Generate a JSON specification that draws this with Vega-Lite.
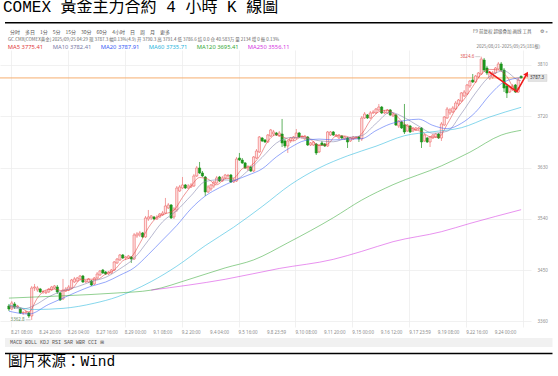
{
"$schema": "https://vega.github.io/schema/vega-lite/v6.json",
"width": 531, "height": 277,
"autosize": {"type": "none"},
"padding": {"left": 0, "top": 50, "right": 27, "bottom": 49},
"background": "#ffffff",
"title": {"text": "COMEX 黃金主力合約 4 小時 K 線圖", "anchor": "start", "frame": "group", "font": "Liberation Mono, Noto Sans CJK TC", "fontSize": 16, "fontWeight": "normal", "color": "#000000", "baseline": "alphabetic", "offset": 6, "dx": 3, "dy": 12},
"config": {"view": {"stroke": null}, "axis": {"labelFont": "Noto Sans", "labelFontSize": 4.5, "labelColor": "#8c8c8c", "gridColor": "#eeeeee", "gridWidth": 0.8, "domain": false, "ticks": false}},
"datasets": {
"candles": [
{"i":0,"o":3387.2,"h":3390.7,"l":3378.4,"c":3381.9},
{"i":1,"o":3381.9,"h":3396.0,"l":3380.2,"c":3392.5},
{"i":2,"o":3390.7,"h":3394.2,"l":3381.9,"c":3385.4},
{"i":3,"o":3385.4,"h":3389.0,"l":3383.7,"c":3387.2},
{"i":4,"o":3381.9,"h":3383.7,"l":3373.2,"c":3374.9},
{"i":5,"o":3374.9,"h":3378.4,"l":3371.4,"c":3375.6},
{"i":6,"o":3374.9,"h":3378.4,"l":3373.2,"c":3376.7},
{"i":7,"o":3374.9,"h":3376.7,"l":3366.1,"c":3369.6},
{"i":8,"o":3369.6,"h":3422.3,"l":3362.8,"c":3418.8},
{"i":9,"o":3418.8,"h":3425.8,"l":3413.5,"c":3420.5},
{"i":10,"o":3415.3,"h":3422.3,"l":3411.8,"c":3418.8},
{"i":11,"o":3417.0,"h":3418.8,"l":3410.0,"c":3411.8},
{"i":12,"o":3411.8,"h":3415.3,"l":3408.3,"c":3412.5},
{"i":13,"o":3410.0,"h":3415.3,"l":3408.3,"c":3411.8},
{"i":14,"o":3411.8,"h":3418.8,"l":3410.0,"c":3417.0},
{"i":15,"o":3415.3,"h":3422.3,"l":3413.5,"c":3420.5},
{"i":16,"o":3418.8,"h":3424.0,"l":3417.0,"c":3422.3},
{"i":17,"o":3420.5,"h":3424.0,"l":3408.3,"c":3411.8},
{"i":18,"o":3410.0,"h":3411.8,"l":3396.0,"c":3397.7},
{"i":19,"o":3399.5,"h":3434.6,"l":3397.7,"c":3415.3},
{"i":20,"o":3413.5,"h":3420.5,"l":3411.8,"c":3417.0},
{"i":21,"o":3415.3,"h":3424.0,"l":3413.5,"c":3420.5},
{"i":22,"o":3418.8,"h":3434.6,"l":3417.0,"c":3432.8},
{"i":23,"o":3429.3,"h":3438.1,"l":3427.5,"c":3434.6},
{"i":24,"o":3431.1,"h":3438.1,"l":3429.3,"c":3436.3},
{"i":25,"o":3434.6,"h":3441.6,"l":3432.8,"c":3439.8},
{"i":26,"o":3439.8,"h":3441.6,"l":3427.5,"c":3429.3},
{"i":27,"o":3429.3,"h":3432.8,"l":3427.5,"c":3431.1},
{"i":28,"o":3429.3,"h":3436.3,"l":3427.5,"c":3434.6},
{"i":29,"o":3431.1,"h":3432.8,"l":3422.3,"c":3424.0},
{"i":30,"o":3425.8,"h":3438.1,"l":3424.0,"c":3436.3},
{"i":31,"o":3436.3,"h":3446.8,"l":3434.6,"c":3443.3},
{"i":32,"o":3441.6,"h":3450.3,"l":3439.8,"c":3448.6},
{"i":33,"o":3450.3,"h":3452.1,"l":3443.3,"c":3445.1},
{"i":34,"o":3446.8,"h":3448.6,"l":3441.6,"c":3443.3},
{"i":35,"o":3443.3,"h":3448.6,"l":3441.6,"c":3446.8},
{"i":36,"o":3445.1,"h":3452.1,"l":3443.3,"c":3450.3},
{"i":37,"o":3450.3,"h":3466.1,"l":3448.6,"c":3464.4},
{"i":38,"o":3462.6,"h":3471.4,"l":3460.9,"c":3469.6},
{"i":39,"o":3467.9,"h":3478.4,"l":3466.1,"c":3476.7},
{"i":40,"o":3476.7,"h":3478.4,"l":3469.6,"c":3471.4},
{"i":41,"o":3471.4,"h":3474.9,"l":3467.9,"c":3473.2},
{"i":42,"o":3471.4,"h":3476.7,"l":3469.6,"c":3474.9},
{"i":43,"o":3473.2,"h":3474.9,"l":3462.6,"c":3469.6},
{"i":44,"o":3469.6,"h":3515.3,"l":3467.9,"c":3511.8},
{"i":45,"o":3510.0,"h":3517.0,"l":3506.5,"c":3513.5},
{"i":46,"o":3511.8,"h":3518.8,"l":3508.3,"c":3515.3},
{"i":47,"o":3515.3,"h":3517.0,"l":3506.5,"c":3508.3},
{"i":48,"o":3508.3,"h":3545.1,"l":3506.5,"c":3541.6},
{"i":49,"o":3539.8,"h":3555.6,"l":3536.3,"c":3543.3},
{"i":50,"o":3541.6,"h":3546.8,"l":3538.1,"c":3545.1},
{"i":51,"o":3543.3,"h":3545.1,"l":3538.1,"c":3539.8},
{"i":52,"o":3539.8,"h":3546.8,"l":3538.1,"c":3543.3},
{"i":53,"o":3543.3,"h":3550.3,"l":3541.6,"c":3548.6},
{"i":54,"o":3546.8,"h":3553.9,"l":3545.1,"c":3550.3},
{"i":55,"o":3550.3,"h":3576.7,"l":3548.6,"c":3562.6},
{"i":56,"o":3559.1,"h":3567.9,"l":3557.4,"c":3564.4},
{"i":57,"o":3564.4,"h":3566.1,"l":3539.8,"c":3541.6},
{"i":58,"o":3543.3,"h":3560.9,"l":3539.8,"c":3557.4},
{"i":59,"o":3555.6,"h":3597.7,"l":3552.1,"c":3594.2},
{"i":60,"o":3588.9,"h":3599.5,"l":3587.2,"c":3596.0},
{"i":61,"o":3594.2,"h":3613.5,"l":3592.5,"c":3599.5},
{"i":62,"o":3599.5,"h":3601.2,"l":3592.5,"c":3594.2},
{"i":63,"o":3594.2,"h":3601.2,"l":3592.5,"c":3597.7},
{"i":64,"o":3596.0,"h":3603.0,"l":3594.2,"c":3599.5},
{"i":65,"o":3597.7,"h":3618.8,"l":3596.0,"c":3615.3},
{"i":66,"o":3615.3,"h":3632.8,"l":3613.5,"c":3629.3},
{"i":67,"o":3629.3,"h":3639.8,"l":3618.8,"c":3620.5},
{"i":68,"o":3620.5,"h":3624.0,"l":3613.5,"c":3615.3},
{"i":69,"o":3613.5,"h":3615.3,"l":3580.2,"c":3587.2},
{"i":70,"o":3587.2,"h":3599.5,"l":3585.4,"c":3596.0},
{"i":71,"o":3592.5,"h":3601.2,"l":3588.9,"c":3599.5},
{"i":72,"o":3597.7,"h":3606.5,"l":3594.2,"c":3604.7},
{"i":73,"o":3603.0,"h":3615.3,"l":3601.2,"c":3611.8},
{"i":74,"o":3613.5,"h":3615.3,"l":3604.7,"c":3606.5},
{"i":75,"o":3606.5,"h":3615.3,"l":3604.7,"c":3611.8},
{"i":76,"o":3611.8,"h":3618.8,"l":3610.0,"c":3617.0},
{"i":77,"o":3615.3,"h":3618.8,"l":3611.8,"c":3616.5},
{"i":78,"o":3617.0,"h":3618.8,"l":3603.0,"c":3604.7},
{"i":79,"o":3604.7,"h":3611.8,"l":3603.0,"c":3608.3},
{"i":80,"o":3606.5,"h":3648.6,"l":3604.7,"c":3645.1},
{"i":81,"o":3646.8,"h":3655.6,"l":3641.6,"c":3643.3},
{"i":82,"o":3643.3,"h":3646.8,"l":3636.3,"c":3638.1},
{"i":83,"o":3638.1,"h":3639.8,"l":3627.5,"c":3629.3},
{"i":84,"o":3627.5,"h":3634.6,"l":3624.0,"c":3631.1},
{"i":85,"o":3631.1,"h":3632.8,"l":3622.3,"c":3624.0},
{"i":86,"o":3624.0,"h":3650.3,"l":3622.3,"c":3648.6},
{"i":87,"o":3646.8,"h":3662.6,"l":3645.1,"c":3659.1},
{"i":88,"o":3657.4,"h":3685.4,"l":3655.6,"c":3683.7},
{"i":89,"o":3681.9,"h":3683.7,"l":3674.9,"c":3676.7},
{"i":90,"o":3678.4,"h":3680.2,"l":3673.2,"c":3674.9},
{"i":91,"o":3674.9,"h":3688.9,"l":3673.2,"c":3687.2},
{"i":92,"o":3685.4,"h":3697.7,"l":3683.7,"c":3696.0},
{"i":93,"o":3688.9,"h":3696.0,"l":3685.4,"c":3692.5},
{"i":94,"o":3690.7,"h":3692.5,"l":3685.4,"c":3687.2},
{"i":95,"o":3685.4,"h":3694.2,"l":3683.7,"c":3690.7},
{"i":96,"o":3688.9,"h":3715.3,"l":3666.1,"c":3673.2},
{"i":97,"o":3676.7,"h":3680.2,"l":3664.4,"c":3667.9},
{"i":98,"o":3667.9,"h":3678.4,"l":3655.6,"c":3676.7},
{"i":99,"o":3676.7,"h":3683.7,"l":3673.2,"c":3681.9},
{"i":100,"o":3680.2,"h":3685.4,"l":3676.7,"c":3683.7},
{"i":101,"o":3681.9,"h":3697.7,"l":3680.2,"c":3690.7},
{"i":102,"o":3690.7,"h":3692.5,"l":3681.9,"c":3683.7},
{"i":103,"o":3683.7,"h":3687.2,"l":3680.2,"c":3684.5},
{"i":104,"o":3680.2,"h":3687.2,"l":3678.4,"c":3685.4},
{"i":105,"o":3683.7,"h":3685.4,"l":3667.9,"c":3669.6},
{"i":106,"o":3669.6,"h":3674.9,"l":3667.9,"c":3673.2},
{"i":107,"o":3669.6,"h":3676.7,"l":3667.9,"c":3674.9},
{"i":108,"o":3671.4,"h":3673.2,"l":3652.1,"c":3655.6},
{"i":109,"o":3657.4,"h":3671.4,"l":3655.6,"c":3669.6},
{"i":110,"o":3673.2,"h":3676.7,"l":3667.9,"c":3669.6},
{"i":111,"o":3671.4,"h":3673.2,"l":3666.1,"c":3667.9},
{"i":112,"o":3667.9,"h":3694.2,"l":3666.1,"c":3692.5},
{"i":113,"o":3687.2,"h":3694.2,"l":3685.4,"c":3692.5},
{"i":114,"o":3692.5,"h":3694.2,"l":3685.4,"c":3687.2},
{"i":115,"o":3685.4,"h":3688.9,"l":3683.7,"c":3687.2},
{"i":116,"o":3681.9,"h":3688.9,"l":3680.2,"c":3687.2},
{"i":117,"o":3685.4,"h":3687.2,"l":3680.2,"c":3681.9},
{"i":118,"o":3680.2,"h":3685.4,"l":3678.4,"c":3683.7},
{"i":119,"o":3681.9,"h":3683.7,"l":3664.4,"c":3674.9},
{"i":120,"o":3676.7,"h":3683.7,"l":3674.9,"c":3681.9},
{"i":121,"o":3680.2,"h":3685.4,"l":3678.4,"c":3683.7},
{"i":122,"o":3681.9,"h":3685.4,"l":3680.2,"c":3683.0},
{"i":123,"o":3683.7,"h":3685.4,"l":3674.9,"c":3680.2},
{"i":124,"o":3680.2,"h":3720.5,"l":3676.7,"c":3717.0},
{"i":125,"o":3717.0,"h":3727.5,"l":3715.3,"c":3724.0},
{"i":126,"o":3722.3,"h":3724.0,"l":3715.3,"c":3717.0},
{"i":127,"o":3717.0,"h":3729.3,"l":3715.3,"c":3725.8},
{"i":128,"o":3725.8,"h":3731.1,"l":3724.0,"c":3727.5},
{"i":129,"o":3725.8,"h":3734.6,"l":3724.0,"c":3732.8},
{"i":130,"o":3731.1,"h":3741.6,"l":3729.3,"c":3736.3},
{"i":131,"o":3736.3,"h":3738.1,"l":3724.0,"c":3725.8},
{"i":132,"o":3725.8,"h":3731.1,"l":3724.0,"c":3727.5},
{"i":133,"o":3725.8,"h":3732.8,"l":3724.0,"c":3731.1},
{"i":134,"o":3731.1,"h":3732.8,"l":3720.5,"c":3722.3},
{"i":135,"o":3720.5,"h":3725.8,"l":3718.8,"c":3724.0},
{"i":136,"o":3722.3,"h":3724.0,"l":3703.0,"c":3704.7},
{"i":137,"o":3703.0,"h":3713.5,"l":3699.5,"c":3711.8},
{"i":138,"o":3710.0,"h":3711.8,"l":3697.7,"c":3699.5},
{"i":139,"o":3705.0,"h":3741.6,"l":3688.9,"c":3692.5},
{"i":140,"o":3694.2,"h":3706.5,"l":3692.5,"c":3704.7},
{"i":141,"o":3703.0,"h":3704.7,"l":3690.7,"c":3692.5},
{"i":142,"o":3694.2,"h":3701.2,"l":3692.5,"c":3699.5},
{"i":143,"o":3696.0,"h":3701.2,"l":3694.2,"c":3699.5},
{"i":144,"o":3697.7,"h":3701.2,"l":3696.0,"c":3699.5},
{"i":145,"o":3699.5,"h":3701.2,"l":3664.4,"c":3674.9},
{"i":146,"o":3676.7,"h":3688.9,"l":3674.9,"c":3687.2},
{"i":147,"o":3681.9,"h":3683.7,"l":3673.2,"c":3674.9},
{"i":148,"o":3674.9,"h":3685.4,"l":3666.1,"c":3683.7},
{"i":149,"o":3681.9,"h":3688.9,"l":3680.2,"c":3687.2},
{"i":150,"o":3683.7,"h":3690.7,"l":3681.9,"c":3688.9},
{"i":151,"o":3688.9,"h":3690.7,"l":3680.2,"c":3681.9},
{"i":152,"o":3681.9,"h":3710.0,"l":3676.7,"c":3706.5},
{"i":153,"o":3704.7,"h":3720.5,"l":3703.0,"c":3718.8},
{"i":154,"o":3717.0,"h":3736.3,"l":3715.3,"c":3732.8},
{"i":155,"o":3725.8,"h":3734.6,"l":3722.3,"c":3731.1},
{"i":156,"o":3727.5,"h":3738.1,"l":3725.8,"c":3734.6},
{"i":157,"o":3732.8,"h":3746.8,"l":3731.1,"c":3743.3},
{"i":158,"o":3741.6,"h":3750.3,"l":3738.1,"c":3748.6},
{"i":159,"o":3746.8,"h":3762.6,"l":3745.1,"c":3760.9},
{"i":160,"o":3755.6,"h":3766.1,"l":3753.9,"c":3762.6},
{"i":161,"o":3759.1,"h":3776.7,"l":3757.4,"c":3774.9},
{"i":162,"o":3773.2,"h":3783.7,"l":3769.6,"c":3781.9},
{"i":163,"o":3783.7,"h":3794.2,"l":3778.4,"c":3780.2},
{"i":164,"o":3780.2,"h":3792.5,"l":3778.4,"c":3790.7},
{"i":165,"o":3788.9,"h":3797.7,"l":3787.2,"c":3796.0},
{"i":166,"o":3794.2,"h":3824.6,"l":3792.5,"c":3820.5},
{"i":167,"o":3818.8,"h":3822.3,"l":3797.7,"c":3801.2},
{"i":168,"o":3804.7,"h":3808.2,"l":3792.5,"c":3796.0},
{"i":169,"o":3787.2,"h":3799.5,"l":3783.7,"c":3797.7},
{"i":170,"o":3788.9,"h":3799.5,"l":3785.4,"c":3796.0},
{"i":171,"o":3796.0,"h":3806.5,"l":3794.2,"c":3804.7},
{"i":172,"o":3803.0,"h":3815.3,"l":3801.2,"c":3811.8},
{"i":173,"o":3811.8,"h":3815.3,"l":3799.5,"c":3801.2},
{"i":174,"o":3801.2,"h":3804.7,"l":3762.6,"c":3769.6},
{"i":175,"o":3773.2,"h":3776.7,"l":3752.1,"c":3760.9},
{"i":176,"o":3762.6,"h":3774.9,"l":3760.9,"c":3771.4},
{"i":177,"o":3766.1,"h":3776.7,"l":3764.4,"c":3773.2},
{"i":178,"o":3774.9,"h":3776.7,"l":3760.9,"c":3762.6},
{"i":179,"o":3762.6,"h":3787.2,"l":3760.9,"c":3783.7},
{"i":180,"o":3790.3,"h":3791.4,"l":3786.6,"c":3787.3}
],
"ma": [
{"s":"MA5","i":0,"v":3387},{"s":"MA5","i":4,"v":3384.4},{"s":"MA5","i":7,"v":3376.8},{"s":"MA5","i":10,"v":3400.9},{"s":"MA5","i":13,"v":3415.1},{"s":"MA5","i":16,"v":3416.8},{"s":"MA5","i":19,"v":3413.5},{"s":"MA5","i":22,"v":3416.7},{"s":"MA5","i":25,"v":3432.8},{"s":"MA5","i":28,"v":3434.2},{"s":"MA5","i":31,"v":3433.9},{"s":"MA5","i":34,"v":3443.3},{"s":"MA5","i":37,"v":3450.0},{"s":"MA5","i":40,"v":3466.5},{"s":"MA5","i":43,"v":3473.2},{"s":"MA5","i":46,"v":3497.0},{"s":"MA5","i":49,"v":3524.4},{"s":"MA5","i":52,"v":3542.6},{"s":"MA5","i":55,"v":3548.9},{"s":"MA5","i":58,"v":3555.3},{"s":"MA5","i":61,"v":3577.7},{"s":"MA5","i":64,"v":3597.4},{"s":"MA5","i":67,"v":3612.5},{"s":"MA5","i":70,"v":3609.7},{"s":"MA5","i":73,"v":3599.8},{"s":"MA5","i":76,"v":3610.4},{"s":"MA5","i":79,"v":3611.7},{"s":"MA5","i":82,"v":3627.9},{"s":"MA5","i":85,"v":3633.2},{"s":"MA5","i":88,"v":3649.3},{"s":"MA5","i":91,"v":3676.3},{"s":"MA5","i":94,"v":3687.6},{"s":"MA5","i":97,"v":3682.3},{"s":"MA5","i":100,"v":3676.7},{"s":"MA5","i":103,"v":3684.9},{"s":"MA5","i":106,"v":3679.3},{"s":"MA5","i":109,"v":3668.6},{"s":"MA5","i":112,"v":3671.0},{"s":"MA5","i":115,"v":3685.5},{"s":"MA5","i":118,"v":3685.4},{"s":"MA5","i":121,"v":3681.2},{"s":"MA5","i":124,"v":3689.2},{"s":"MA5","i":127,"v":3712.8},{"s":"MA5","i":130,"v":3727.9},{"s":"MA5","i":133,"v":3730.7},{"s":"MA5","i":136,"v":3721.9},{"s":"MA5","i":139,"v":3706.5},{"s":"MA5","i":142,"v":3697.7},{"s":"MA5","i":145,"v":3693.2},{"s":"MA5","i":148,"v":3684.0},{"s":"MA5","i":151,"v":3683.3},{"s":"MA5","i":154,"v":3705.8},{"s":"MA5","i":157,"v":3732.1},{"s":"MA5","i":160,"v":3750.0},{"s":"MA5","i":163,"v":3772.1},{"s":"MA5","i":166,"v":3793.9},{"s":"MA5","i":169,"v":3802.3},{"s":"MA5","i":172,"v":3801.2},{"s":"MA5","i":175,"v":3789.6},{"s":"MA5","i":178,"v":3767.5},{"s":"MA5","i":180,"v":3775.4},
{"s":"MA10","i":0,"v":3386},{"s":"MA10","i":5,"v":3382},{"s":"MA10","i":9,"v":3388.3},{"s":"MA10","i":14,"v":3403.3},{"s":"MA10","i":19,"v":3414.0},{"s":"MA10","i":24,"v":3420.9},{"s":"MA10","i":29,"v":3430.0},{"s":"MA10","i":34,"v":3437.5},{"s":"MA10","i":39,"v":3452.4},{"s":"MA10","i":44,"v":3470.9},{"s":"MA10","i":49,"v":3502.3},{"s":"MA10","i":54,"v":3534.9},{"s":"MA10","i":59,"v":3554.7},{"s":"MA10","i":64,"v":3580.7},{"s":"MA10","i":69,"v":3605.5},{"s":"MA10","i":74,"v":3608.6},{"s":"MA10","i":79,"v":3607.7},{"s":"MA10","i":84,"v":3624.5},{"s":"MA10","i":89,"v":3647.9},{"s":"MA10","i":94,"v":3673.0},{"s":"MA10","i":99,"v":3682.8},{"s":"MA10","i":104,"v":3681.8},{"s":"MA10","i":109,"v":3677.1},{"s":"MA10","i":114,"v":3675.3},{"s":"MA10","i":119,"v":3682.5},{"s":"MA10","i":124,"v":3686.1},{"s":"MA10","i":129,"v":3707.3},{"s":"MA10","i":134,"v":3727.0},{"s":"MA10","i":139,"v":3717.6},{"s":"MA10","i":144,"v":3702.8},{"s":"MA10","i":149,"v":3690.4},{"s":"MA10","i":154,"v":3693.7},{"s":"MA10","i":159,"v":3724.7},{"s":"MA10","i":164,"v":3760.9},{"s":"MA10","i":169,"v":3790.2},{"s":"MA10","i":174,"v":3799.5},{"s":"MA10","i":179,"v":3783.5},{"s":"MA10","i":180,"v":3782.4},
{"s":"MA20","i":0,"v":3378},{"s":"MA20","i":7,"v":3373},{"s":"MA20","i":14,"v":3390},{"s":"MA20","i":19,"v":3401.1},{"s":"MA20","i":24,"v":3412.1},{"s":"MA20","i":29,"v":3422.0},{"s":"MA20","i":34,"v":3429.2},{"s":"MA20","i":39,"v":3441.2},{"s":"MA20","i":44,"v":3454.2},{"s":"MA20","i":49,"v":3477.4},{"s":"MA20","i":54,"v":3502.9},{"s":"MA20","i":59,"v":3528.5},{"s":"MA20","i":64,"v":3557.8},{"s":"MA20","i":69,"v":3580.1},{"s":"MA20","i":74,"v":3594.7},{"s":"MA20","i":79,"v":3606.6},{"s":"MA20","i":84,"v":3616.6},{"s":"MA20","i":89,"v":3627.8},{"s":"MA20","i":94,"v":3648.8},{"s":"MA20","i":99,"v":3665.4},{"s":"MA20","i":104,"v":3677.4},{"s":"MA20","i":109,"v":3680.0},{"s":"MA20","i":114,"v":3678.6},{"s":"MA20","i":119,"v":3679.8},{"s":"MA20","i":124,"v":3680.7},{"s":"MA20","i":129,"v":3694.9},{"s":"MA20","i":134,"v":3706.5},{"s":"MA20","i":139,"v":3712.4},{"s":"MA20","i":144,"v":3714.9},{"s":"MA20","i":149,"v":3704.0},{"s":"MA20","i":154,"v":3698.3},{"s":"MA20","i":159,"v":3707.6},{"s":"MA20","i":164,"v":3727.3},{"s":"MA20","i":169,"v":3757.5},{"s":"MA20","i":174,"v":3780.2},{"s":"MA20","i":180,"v":3787.9},
{"s":"MA60","i":0,"v":3389},{"s":"MA60","i":9,"v":3381},{"s":"MA60","i":19,"v":3383},{"s":"MA60","i":30,"v":3392},{"s":"MA60","i":38,"v":3403},{"s":"MA60","i":43,"v":3413},{"s":"MA60","i":50,"v":3430},{"s":"MA60","i":59,"v":3457},{"s":"MA60","i":69,"v":3493.1},{"s":"MA60","i":79,"v":3525.4},{"s":"MA60","i":89,"v":3561.7},{"s":"MA60","i":99,"v":3600.1},{"s":"MA60","i":109,"v":3629.3},{"s":"MA60","i":119,"v":3650.6},{"s":"MA60","i":129,"v":3667.5},{"s":"MA60","i":139,"v":3685.9},{"s":"MA60","i":149,"v":3692.9},{"s":"MA60","i":159,"v":3699.9},{"s":"MA60","i":169,"v":3718.8},{"s":"MA60","i":180,"v":3735.7},
{"s":"MA120","i":0,"v":3401},{"s":"MA120","i":19,"v":3405},{"s":"MA120","i":38,"v":3410},{"s":"MA120","i":50,"v":3415},{"s":"MA120","i":64,"v":3435},{"s":"MA120","i":76,"v":3454},{"s":"MA120","i":86,"v":3468},{"s":"MA120","i":98,"v":3498},{"s":"MA120","i":114,"v":3542},{"s":"MA120","i":124,"v":3573},{"s":"MA120","i":135,"v":3600},{"s":"MA120","i":152,"v":3633},{"s":"MA120","i":162,"v":3657},{"s":"MA120","i":173,"v":3687},{"s":"MA120","i":180,"v":3695.4},
{"s":"MA250","i":50,"v":3415},{"s":"MA250","i":76,"v":3434},{"s":"MA250","i":95,"v":3453},{"s":"MA250","i":114,"v":3469},{"s":"MA250","i":124,"v":3483},{"s":"MA250","i":135,"v":3500},{"s":"MA250","i":152,"v":3517.5},{"s":"MA250","i":162,"v":3532},{"s":"MA250","i":180,"v":3556.1}
],
"ticks": [
{"i":0.7,"t":"8.21 08:00"},{"i":10.7,"t":"8.24 20:00"},{"i":20.7,"t":"8.26 04:00"},{"i":30.7,"t":"8.27 16:00"},{"i":40.7,"t":"8.29 00:00"},{"i":50.7,"t":"9.1 08:00"},{"i":60.7,"t":"9.2 20:00"},{"i":70.7,"t":"9.4 04:00"},{"i":80.7,"t":"9.5 16:00"},{"i":90.7,"t":"9.8 23:59"},{"i":100.7,"t":"9.10 08:00"},{"i":110.7,"t":"9.11 20:00"},{"i":120.7,"t":"9.15 00:00"},{"i":130.7,"t":"9.16 12:00"},{"i":140.7,"t":"9.17 23:59"},{"i":150.7,"t":"9.19 08:00"},{"i":160.7,"t":"9.22 16:00"},{"i":170.7,"t":"9.24 00:00"}
],
"arrow": [{"i":168.6,"p":3798.2},{"i":178.5,"p":3763.2},{"i":182.0,"p":3794.5}],
"notes": [{"i":166,"p":3824.6,"t":"3824.6","kind":"high"},{"i":8,"p":3362.8,"t":"3362.8","kind":"low"}],
"tag": [{"p":3787.3,"t":"3787.3"}]
},
"layer": [
{"data": {"values": [{}]}, "mark": {"type": "rect", "color": "#f1f1f1"},
 "encoding": {
  "x": {"datum": -1.38, "type": "quantitative", "title": null, "scale": {"domain": [-1.38, 181.72], "nice": false, "zero": false},
        "axis": {"values": [0.7,10.7,20.7,30.7,40.7,50.7,60.7,70.7,80.7,90.7,100.7,110.7,120.7,130.7,140.7,150.7,160.7,170.7,180.7], "labels": false, "grid": true, "title": null}},
  "x2": {"datum": 191.03},
  "y": {"datum": 3331.0, "type": "quantitative", "title": null, "scale": {"domain": [3350.3, 3836.3], "nice": false, "zero": false},
        "axis": {"orient": "right", "values": [3360,3450,3540,3630,3720,3810], "format": "d", "labelPadding": 6, "labelAlign": "left", "grid": true, "title": null}},
  "y2": {"datum": 3315.3}}},
{"data": {"name": "tag"}, "mark": {"type": "rule", "color": "#f6ae70", "strokeWidth": 1},
 "encoding": {"y": {"field": "p", "type": "quantitative", "title": null}}},
{"data": {"name": "candles"}, "mark": {"type": "rule", "strokeWidth": 0.8},
 "encoding": {
  "x": {"field": "i", "type": "quantitative", "title": null},
  "y": {"field": "l", "type": "quantitative", "title": null},
  "y2": {"field": "h"},
  "stroke": {"condition": {"test": "datum.c >= datum.o", "value": "#f08585"}, "value": "#3a9e3a"}}},
{"data": {"name": "candles"}, "mark": {"type": "bar", "size": 2.2, "strokeWidth": 0.6},
 "encoding": {
  "x": {"field": "i", "type": "quantitative", "title": null},
  "y": {"field": "o", "type": "quantitative", "title": null},
  "y2": {"field": "c"},
  "fill": {"condition": {"test": "datum.c >= datum.o", "value": "#fde2e2"}, "value": "#1c961c"},
  "stroke": {"condition": {"test": "datum.c >= datum.o", "value": "#ee6464"}, "value": "#1c961c"}}},
{"data": {"name": "ma"}, "mark": {"type": "line", "interpolate": "monotone", "strokeWidth": 0.9, "opacity": 0.6},
 "encoding": {
  "x": {"field": "i", "type": "quantitative", "title": null},
  "y": {"field": "v", "type": "quantitative", "title": null},
  "color": {"field": "s", "type": "nominal",
    "scale": {"domain": ["MA5","MA10","MA20","MA60","MA120","MA250"], "range": ["#e23c3c","#7a7aa6","#3a5cf5","#1fb4dc","#35a835","#d535e2"]},
    "legend": {"orient": "none", "legendX": 2, "legendY": -6, "direction": "horizontal", "title": null, "symbolSize": 0, "symbolOpacity": 0, "symbolStrokeWidth": 0, "labelOffset": 0, "columnPadding": 3, "labelFontSize": 5.8, "labelFont": "Noto Sans", "padding": 0, "labelLimit": 200,
      "labelExpr": "datum.value == 'MA5' ? 'MA5 3775.41' : datum.value == 'MA10' ? 'MA10 3782.41' : datum.value == 'MA20' ? 'MA20 3787.91' : datum.value == 'MA60' ? 'MA60 3735.71' : datum.value == 'MA120' ? 'MA120 3695.41' : 'MA250 3556.11'",
      "encode": {"labels": {"update": {"fill": {"scale": "color", "field": "value"}}}}}}}},
{"data": {"name": "ticks"}, "mark": {"type": "text", "align": "left", "baseline": "top", "dy": 3, "fontSize": 4.5, "font": "Noto Sans", "color": "#8c8c8c"},
 "encoding": {"x": {"field": "i", "type": "quantitative", "title": null}, "y": {"datum": 3350.3, "type": "quantitative", "title": null}, "text": {"field": "t"}}},
{"data": {"name": "arrow"}, "mark": {"type": "line", "color": "#f01c1c", "strokeWidth": 1.6},
 "encoding": {"x": {"field": "i", "type": "quantitative", "title": null}, "y": {"field": "p", "type": "quantitative", "title": null}}},
{"data": {"name": "arrow"}, "transform": [{"filter": "datum.i > 181"}], "mark": {"type": "point", "shape": "triangle-up", "angle": 29, "size": 30, "filled": true, "color": "#f01c1c", "opacity": 1},
 "encoding": {"x": {"field": "i", "type": "quantitative", "title": null}, "y": {"field": "p", "type": "quantitative", "title": null}}},
{"data": {"name": "notes"}, "mark": {"type": "rule", "xOffset": -1, "x2Offset": -6, "color": "#b0b0b0", "strokeWidth": 0.6},
 "encoding": {"x": {"field": "i", "type": "quantitative", "title": null}, "x2": {"field": "i"}, "y": {"field": "p", "type": "quantitative", "title": null}}},
{"data": {"name": "notes"}, "mark": {"type": "text", "align": "right", "baseline": "middle", "dx": -7, "fontSize": 4.5, "font": "Noto Sans"},
 "encoding": {"x": {"field": "i", "type": "quantitative", "title": null}, "y": {"field": "p", "type": "quantitative", "title": null}, "text": {"field": "t"},
  "color": {"condition": {"test": "datum.kind == 'high'", "value": "#e05a5a"}, "value": "#6b8f6b"}}},
{"data": {"name": "tag"}, "mark": {"type": "point", "shape": "M0,-0.35L1.9,-0.35L1.9,0.35L0,0.35Z", "size": 400, "filled": true, "fill": "#e4e4e4", "stroke": "#c6c6c6", "strokeWidth": 0.4, "opacity": 1, "xOffset": 2},
 "encoding": {"x": {"datum": 181.72, "type": "quantitative", "title": null}, "y": {"field": "p", "type": "quantitative", "title": null}}},
{"data": {"name": "tag"}, "mark": {"type": "text", "align": "left", "baseline": "middle", "dx": 4, "fontSize": 4.5, "font": "Noto Sans", "color": "#333333"},
 "encoding": {"x": {"datum": 181.72, "type": "quantitative", "title": null}, "y": {"field": "p", "type": "quantitative", "title": null}, "text": {"field": "t"}}},
{"data": {"values": [{"t": "分时　多日　1分　5分　15分　30分　60分　4小时　日　周　月　更多"}]}, "mark": {"type": "text", "align": "left", "baseline": "middle", "fontSize": 5, "font": "Noto Sans CJK SC", "color": "#555555"},
 "encoding": {"x": {"datum": 0.35, "type": "quantitative", "title": null}, "y": {"datum": 3867.9, "type": "quantitative", "title": null}, "text": {"field": "t"}}},
{"data": {"values": [{"t": "F9 前复权 超级叠加 画线 工具　　⚙ »"}]}, "mark": {"type": "text", "align": "right", "baseline": "middle", "fontSize": 4.5, "font": "Noto Sans CJK SC", "color": "#666666"},
 "encoding": {"x": {"datum": 189.31, "type": "quantitative", "title": null}, "y": {"datum": 3867.9, "type": "quantitative", "title": null}, "text": {"field": "t"}}},
{"data": {"values": [{"t": "GC.CMX[COMEX黄金]  2025/09/25 04:29  现 3787.3  幅0.13%(4.9)  开 3790.3  高 3791.4  低 3786.6  结 0.0  仓 40.583万  量 2134  增 0  振 0.13%"}]}, "mark": {"type": "text", "align": "left", "baseline": "middle", "fontSize": 4.5, "font": "Noto Sans CJK SC", "color": "#666666"},
 "encoding": {"x": {"datum": -0.35, "type": "quantitative", "title": null}, "y": {"datum": 3853.9, "type": "quantitative", "title": null}, "text": {"field": "t"}}},
{"data": {"values": [{"t": "2025/08/21-2025/09/25(181根)"}]}, "mark": {"type": "text", "align": "right", "baseline": "middle", "fontSize": 4.5, "font": "Noto Sans CJK SC", "color": "#777777"},
 "encoding": {"x": {"datum": 186.72, "type": "quantitative", "title": null}, "y": {"datum": 3840.7, "type": "quantitative", "title": null}, "text": {"field": "t"}}},
{"data": {"values": [{"t": "MACD     BOLL   KDJ    RSI   SAR    WBR     CCI   ⊞"}]}, "mark": {"type": "text", "align": "left", "baseline": "middle", "fontSize": 5, "font": "Liberation Mono", "color": "#555555"},
 "encoding": {"x": {"datum": 0.35, "type": "quantitative", "title": null}, "y": {"datum": 3323.2, "type": "quantitative", "title": null}, "text": {"field": "t"}}},
{"data": {"values": [{}]}, "mark": {"type": "rule", "color": "#000000", "strokeWidth": 1.5},
 "encoding": {"x": {"datum": -1.38, "type": "quantitative", "title": null}, "x2": {"datum": 191.03}, "y": {"datum": 3884.2, "type": "quantitative", "title": null}}},
{"data": {"values": [{}]}, "mark": {"type": "rule", "color": "#000000", "strokeWidth": 1.5},
 "encoding": {"x": {"datum": -1.38, "type": "quantitative", "title": null}, "x2": {"datum": 191.03}, "y": {"datum": 3303.9, "type": "quantitative", "title": null}}},
{"data": {"values": [{"t": "圖片來源：Wind"}]}, "mark": {"type": "text", "align": "left", "baseline": "middle", "fontSize": 14.5, "font": "Liberation Mono, Noto Sans CJK TC", "color": "#000000"},
 "encoding": {"x": {"datum": -0.35, "type": "quantitative", "title": null}, "y": {"datum": 3289.0, "type": "quantitative", "title": null}, "text": {"field": "t"}}}
]
}
